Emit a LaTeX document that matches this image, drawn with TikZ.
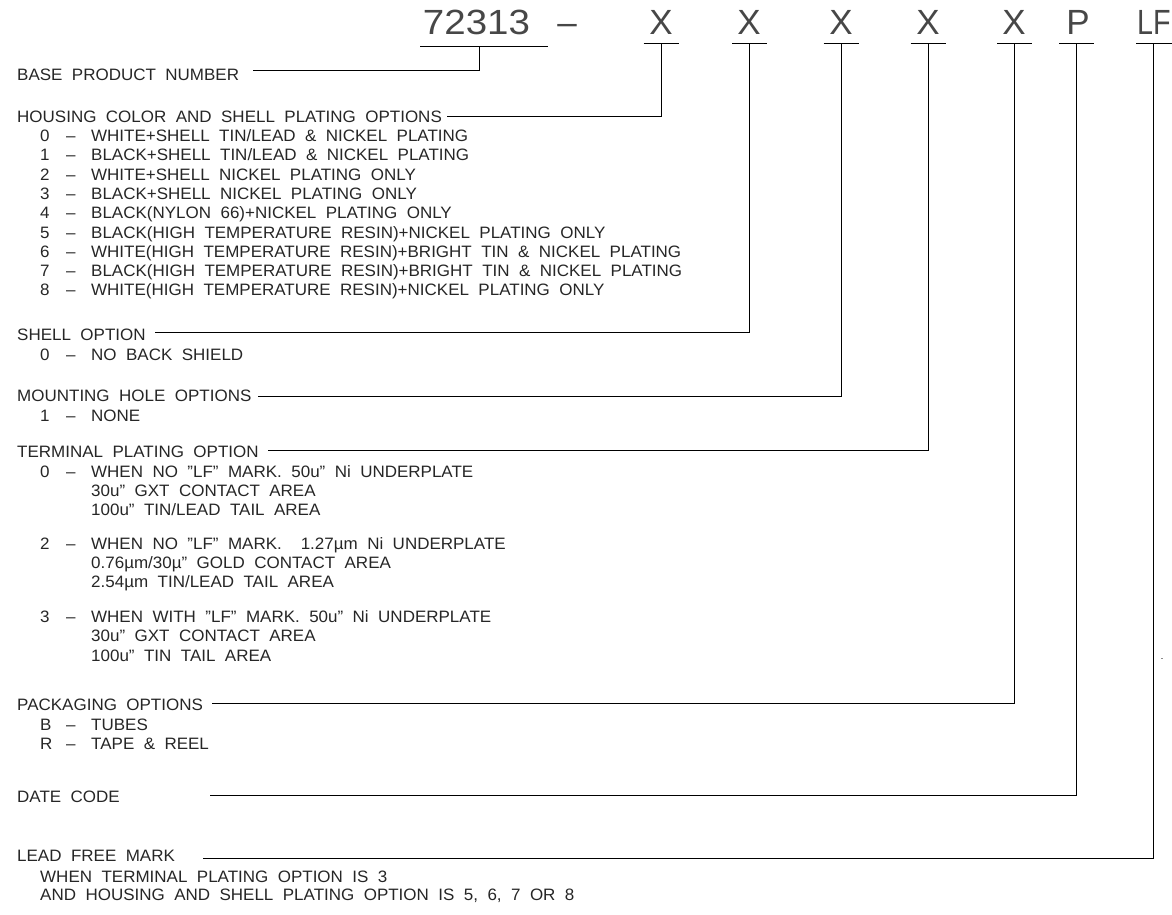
\documentclass[tikz,border=0pt]{standalone}
\usepackage{fontspec}
\setmainfont{Liberation Sans}[FakeStretch=1.03,WordSpace=2.0]
\newfontfamily\hdrfont{Liberation Sans}
\newcommand\optrow[2]{\makebox[26pt][l]{#1}\makebox[25pt][l]{–}#2}
\begin{document}
\begin{tikzpicture}[x=1pt,y=-1pt,
  lbl/.style={anchor=base west, inner sep=0pt, font=\fontsize{16.5}{19}\selectfont, text=black!85},
  hdr/.style={anchor=base, inner sep=0pt, font=\hdrfont\fontsize{35}{40}\selectfont, text=black!72},
  conn/.style={line width=0.9pt, black}]
\useasboundingbox (0,0) rectangle (1172,914);

% ---------- header ----------
\node[hdr] (pn) at (476.5,34.5) {\scalebox{1.1}[1]{72313}};
\node[hdr] (hd) at (567,34.5) {–};
\node[hdr] (x1) at (661,34.5) {X};
\node[hdr] (x2) at (749,34.5) {X};
\node[hdr] (x3) at (841,34.5) {X};
\node[hdr] (x4) at (928,34.5) {X};
\node[hdr] (x5) at (1014,34.5) {X};
\node[hdr] (pp) at (1078,34.5) {P};
\node[hdr,anchor=base west] (lf) at (1137,34.5) {\scalebox{0.82}[1]{LF}};

\coordinate (u0) at (479,46.7);
\coordinate (u1) at (661,43.3);
\coordinate (u2) at (749.5,43.3);
\coordinate (u3) at (841,43.3);
\coordinate (u4) at (928,43.3);
\coordinate (u5) at (1014.5,43.3);
\coordinate (u6) at (1076.5,43.3);
\coordinate (u7) at (1153,43.3);

\draw[conn] ([xshift=-59pt]u0) -- ([xshift=69pt]u0);
\foreach \u in {u1,u2,u3,u4,u5,u6}
  \draw[conn] ([xshift=-17.5pt]\u) -- ([xshift=17.5pt]\u);
\draw[conn] ([xshift=-17pt]u7) -- ([xshift=22pt]u7);

% ---------- labels ----------
\node[lbl] (l0) at (17,80) {BASE PRODUCT NUMBER};
\node[lbl] (l1) at (17,122.5) {HOUSING COLOR AND SHELL PLATING OPTIONS};
\node[lbl] (o10) at (40,141.5) {\optrow{0}{WHITE+SHELL TIN/LEAD \& NICKEL PLATING}};
\node[lbl] (o11) at (40,160.8) {\optrow{1}{BLACK+SHELL TIN/LEAD \& NICKEL PLATING}};
\node[lbl] (o12) at (40,180.1) {\optrow{2}{WHITE+SHELL NICKEL PLATING ONLY}};
\node[lbl] (o13) at (40,199.4) {\optrow{3}{BLACK+SHELL NICKEL PLATING ONLY}};
\node[lbl] (o14) at (40,218.7) {\optrow{4}{BLACK(NYLON 66)+NICKEL PLATING ONLY}};
\node[lbl] (o15) at (40,238.0) {\optrow{5}{BLACK(HIGH TEMPERATURE RESIN)+NICKEL PLATING ONLY}};
\node[lbl] (o16) at (40,257.3) {\optrow{6}{WHITE(HIGH TEMPERATURE RESIN)+BRIGHT TIN \& NICKEL PLATING}};
\node[lbl] (o17) at (40,276.6) {\optrow{7}{BLACK(HIGH TEMPERATURE RESIN)+BRIGHT TIN \& NICKEL PLATING}};
\node[lbl] (o18) at (40,295.9) {\optrow{8}{WHITE(HIGH TEMPERATURE RESIN)+NICKEL PLATING ONLY}};

\node[lbl] (l2) at (17,340) {SHELL OPTION};
\node[lbl] (o20) at (40,360) {\optrow{0}{NO BACK SHIELD}};

\node[lbl] (l3) at (17,401.5) {MOUNTING HOLE OPTIONS};
\node[lbl] (o30) at (40,421) {\optrow{1}{NONE}};

\node[lbl] (l4) at (17,457) {TERMINAL PLATING OPTION};
\node[lbl] (o40) at (40,477) {\optrow{0}{WHEN NO ”LF” MARK. 50u” Ni UNDERPLATE}};
\node[lbl] (o40b) at (91,496) {30u” GXT CONTACT AREA};
\node[lbl] (o40c) at (91,515) {100u” TIN/LEAD TAIL AREA};
\node[lbl] (o42) at (40,549) {\optrow{2}{WHEN NO ”LF” MARK.\ \ 1.27µm Ni UNDERPLATE}};
\node[lbl] (o42b) at (91,568) {0.76µm/30µ” GOLD CONTACT AREA};
\node[lbl] (o42c) at (91,587) {2.54µm TIN/LEAD TAIL AREA};
\node[lbl] (o43) at (40,622) {\optrow{3}{WHEN WITH ”LF” MARK. 50u” Ni UNDERPLATE}};
\node[lbl] (o43b) at (91,641.5) {30u” GXT CONTACT AREA};
\node[lbl] (o43c) at (91,661) {100u” TIN TAIL AREA};

\node[lbl] (l5) at (17,710) {PACKAGING OPTIONS};
\node[lbl] (o5b) at (40,730) {\optrow{B}{TUBES}};
\node[lbl] (o5r) at (40,749.5) {\optrow{R}{TAPE \& REEL}};

\node[lbl] (l6) at (17,802) {DATE CODE};

\node[lbl] (l7) at (17,861) {LEAD FREE MARK};
\node[lbl] (o7a) at (40,882) {WHEN TERMINAL PLATING OPTION IS 3};
\node[lbl] (o7b) at (40,900.5) {AND HOUSING AND SHELL PLATING OPTION IS 5, 6, 7 OR 8};

% ---------- connector start points ----------
\coordinate (e0) at (253,70.7);
\coordinate (e1) at (447,116.7);
\coordinate (e2) at (155,332.7);
\coordinate (e3) at (258,396);
\coordinate (e4) at (268,450);
\coordinate (e5) at (212,703);
\coordinate (e6) at (210,795.5);
\coordinate (e7) at (203,858.5);

\draw[conn] (u0) |- (e0);
\draw[conn] (u1) |- (e1);
\draw[conn] (u2) |- (e2);
\draw[conn] (u3) |- (e3);
\draw[conn] (u4) |- (e4);
\draw[conn] (u5) |- (e5);
\draw[conn] (u6) |- (e6);
\draw[conn] (u7) |- (e7);

% stray dot
\fill[black!45] (1160.5,657.5) rectangle (1162.5,659);
\end{tikzpicture}
\end{document}
